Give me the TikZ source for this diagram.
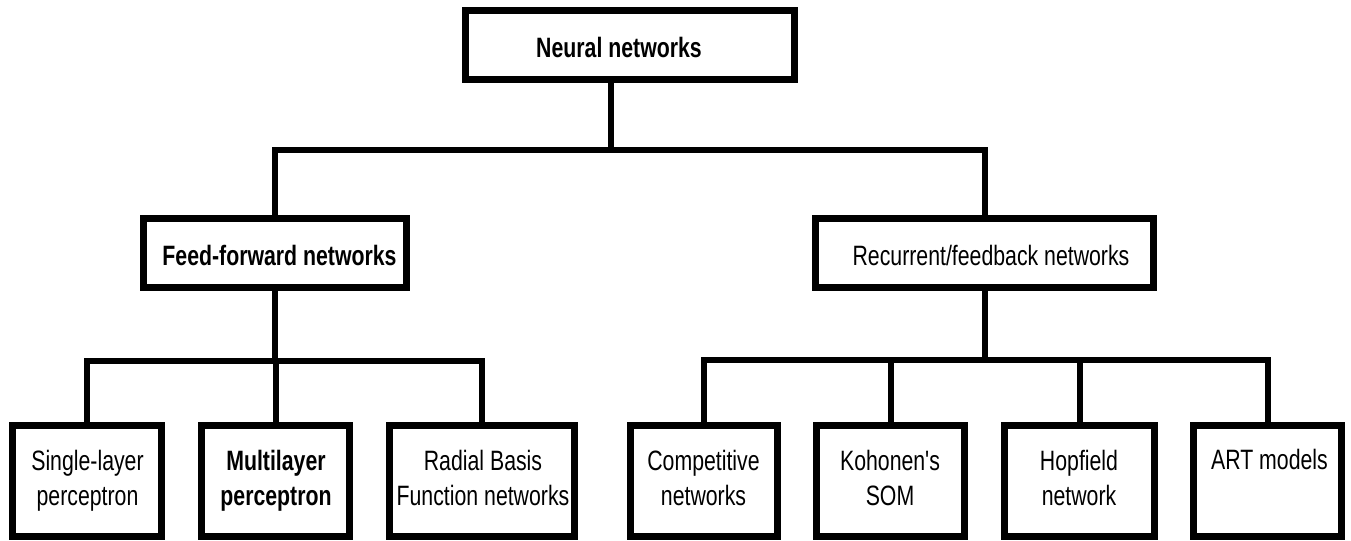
\documentclass[tikz,border=0pt]{standalone}
\usepackage{fontspec}
\setmainfont{Liberation Sans}[FakeStretch=0.76, Ligatures=TeXOff]
\usetikzlibrary{fit}
\begin{document}
\begin{tikzpicture}[x=0.75pt,y=-0.75pt,
  box/.style={draw=black, line width=5.25pt, line join=miter, inner sep=0pt, fill=white},
  conn/.style={draw=black, line width=4.5pt, line join=miter},
  lbl/.style={anchor=base, inner sep=0pt, align=center, font=\fontsize{21}{26.25}\selectfont},
  blbl/.style={lbl, font=\fontsize{21}{26.25}\selectfont\bfseries}]
\useasboundingbox (0,0) rectangle (1351,540);
% boxes
\node[box, fit={(465.5,10.5) (794.5,79.5)}] (nn) {};
\node[box, fit={(143.5,218.5) (406.5,287.5)}] (ff) {};
\node[box, fit={(815.5,218.5) (1153.5,287.5)}] (rf) {};
\node[box, fit={(12.5,425.5) (161.5,536.5)}] (sl) {};
\node[box, fit={(201.5,425.5) (349.5,536.5)}] (ml) {};
\node[box, fit={(389.5,425.5) (574.5,536.5)}] (rb) {};
\node[box, fit={(630.5,425.5) (777.5,536.5)}] (cn) {};
\node[box, fit={(816.5,425.5) (964.5,536.5)}] (ko) {};
\node[box, fit={(1004.5,425.5) (1154.5,536.5)}] (hf) {};
\node[box, fit={(1193.5,425.5) (1341.5,536.5)}] (art) {};
% connectors
\coordinate (j0) at (611,150);
\draw[conn] (nn.south -| j0) -- (j0);
\draw[conn] (ff.north) |- (j0) -| (rf.north);
\path (ff.south) ++(0,69.5) coordinate (j1);
\draw[conn] (ff.south) -- (j1);
\draw[conn] (sl.north) |- (j1) -| (rb.north);
\draw[conn] (ml.north) -- (ml.north |- j1);
\path (rf.south) ++(0,68.5) coordinate (j2);
\draw[conn] (rf.south) -- (j2);
\draw[conn] (cn.north) |- (j2) -| (art.north);
\draw[conn] (ko.north) -- (ko.north |- j2);
\draw[conn] (hf.north) -- (hf.north |- j2);
% texts
\node[blbl] (nnt) at (619,57) {Neural networks};
\node[blbl] (fft) at (279.5,265) {Feed-forward networks};
\node[lbl] (rft) at (991,265) {Recurrent/feedback networks};
\node[lbl] (slt) at (87.5,505) {Single-layer\\perceptron};
\node[blbl] (mlt) at (276,505) {Multilayer\\perceptron};
\node[lbl] (rbt) at (483,505) {Radial Basis\\Function networks};
\node[lbl] (cnt) at (703.5,505) {Competitive\\networks};
\node[lbl] (kot) at (890,505) {Kohonen's\\SOM};
\node[lbl] (hft) at (1079,505) {Hopfield\\network};
\node[lbl] (artt) at (1269.5,469) {ART models};
\end{tikzpicture}
\end{document}
